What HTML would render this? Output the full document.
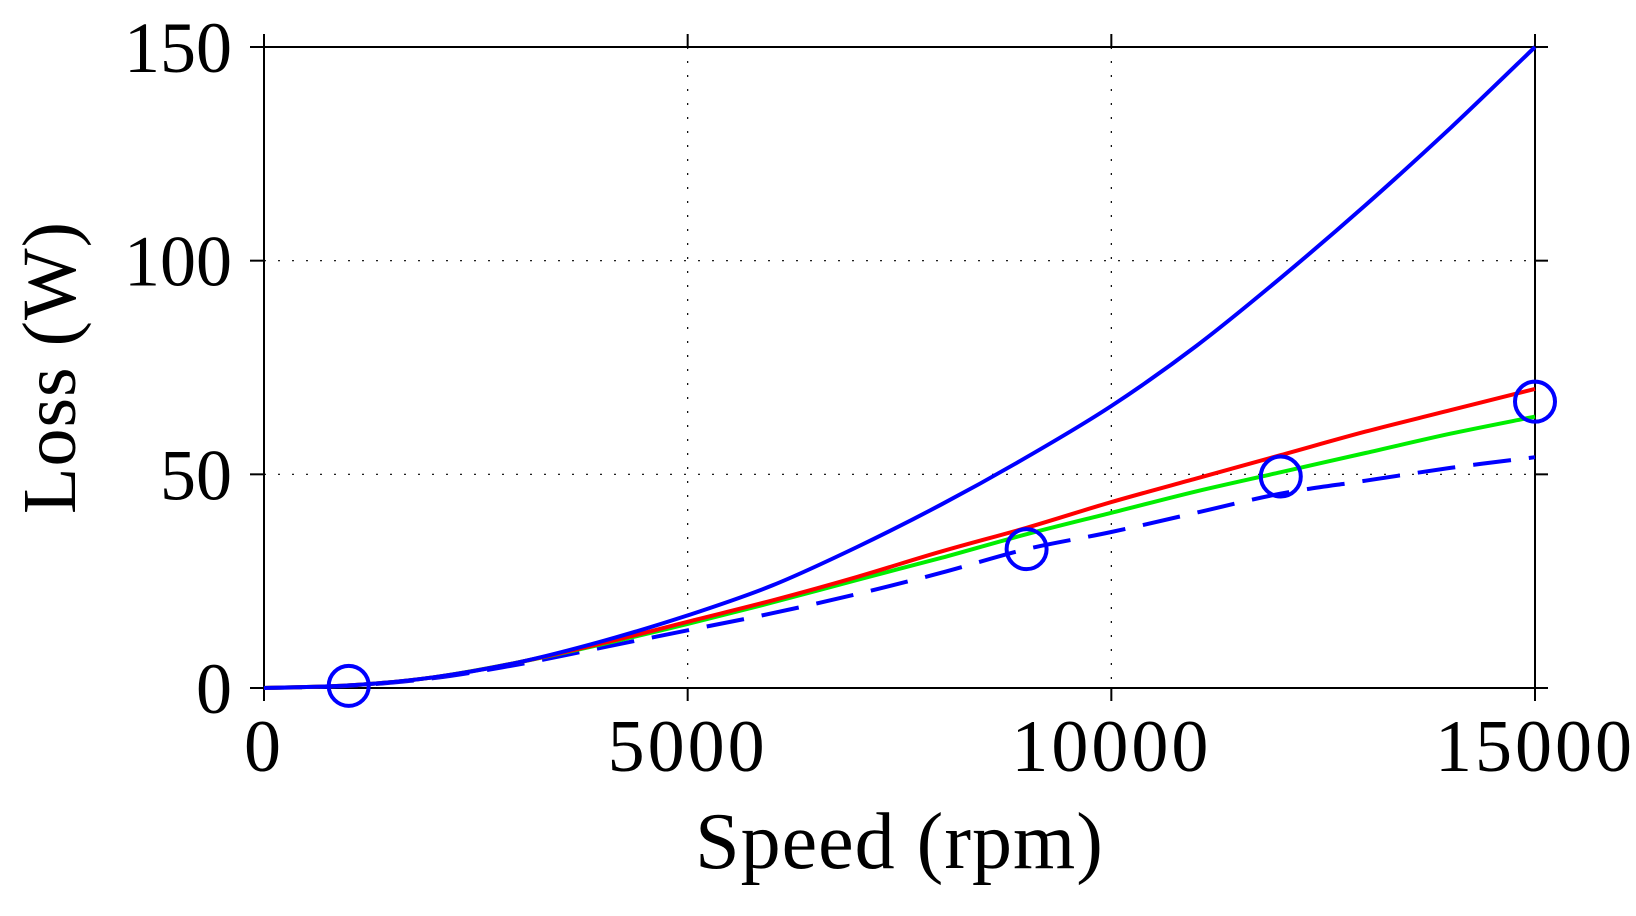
<!DOCTYPE html>
<html><head><meta charset="utf-8"><style>
body{margin:0;background:#fff}
svg text{font-family:"Liberation Serif",serif;fill:#000}
</style></head><body>
<svg id="c" width="1636" height="911"></svg>
<script>
const speeds=[0,1000,2000,3000,4000,5000,6000,7000,8000,9000,10000,11000,12000,13000,14000,15000];
const blueSolid=[0,0.6,2.5,6,11,17,24,33,43,54,66,80,96,113,131,150];
const redLoss=[0,0.6,2.5,6,10.5,15.5,20.5,26,32,37.5,43.5,49,54.5,60,65,70];
const greenLoss=[0,0.6,2.5,6,10.3,15,20,25.3,30.5,36,41,46,50.5,55,59.5,63.5];
const blueDashed=[0,0.5,2.3,5.5,9.5,13.5,17.5,22,27,32.5,36.5,41,45.5,48.5,51.5,54];
const markerX=[1000,9000,12000,15000];
const markerY=[0.5,32.5,49.5,67];
const xTicks=[0,5000,10000,15000];
const yTicks=[0,50,100,150];
const NS="http://www.w3.org/2000/svg";
const svg=document.getElementById('c');
const L=264,R=1535,T=47,B=688;
const sx=v=>L+(v-0)/15000*(R-L);
const sy=v=>B-(v-0)/150*(B-T);
function mk(tag,attrs,parent){const e=document.createElementNS(NS,tag);for(const k in attrs)e.setAttribute(k,attrs[k]);(parent||svg).appendChild(e);return e;}
xTicks.forEach(t=>{if(t>0&&t<15000){const g=mk('line',{x1:sx(t),x2:sx(t),y1:T,y2:B,stroke:'#000','stroke-width':1.2,'stroke-dasharray':'2 12'});

}});
yTicks.forEach(t=>{if(t>0&&t<150){const g=mk('line',{x1:L,x2:R,y1:sy(t),y2:sy(t),stroke:'#000','stroke-width':1.2,'stroke-dasharray':'2 12'});

}});
const fr=mk('rect',{x:L,y:T,width:R-L,height:B-T,fill:'none',stroke:'#000','stroke-width':2});


xTicks.forEach(t=>{mk('line',{x1:sx(t),x2:sx(t),y1:B,y2:B+13,stroke:'#000','stroke-width':2});mk('line',{x1:sx(t),x2:sx(t),y1:T-13,y2:T,stroke:'#000','stroke-width':2});
const tx=mk('text',{x:sx(t),y:B+83,'font-size':74,'text-anchor':'middle','letter-spacing':3});tx.textContent=t;

});
yTicks.forEach(t=>{mk('line',{x1:L-14,x2:L,y1:sy(t),y2:sy(t),stroke:'#000','stroke-width':2});mk('line',{x1:R,x2:R+13,y1:sy(t),y2:sy(t),stroke:'#000','stroke-width':2});
const tx=mk('text',{x:L-32,y:sy(t)+25,'font-size':72,'text-anchor':'end','letter-spacing':0});tx.textContent=t;

});
function line(vals,color,name,dash){
const P=speeds.map((s,i)=>[sx(s),sy(vals[i])]);
let d='M'+P[0][0].toFixed(1)+','+P[0][1].toFixed(1);
for(let i=0;i<P.length-1;i++){const p0=P[Math.max(0,i-1)],p1=P[i],p2=P[i+1],p3=P[Math.min(P.length-1,i+2)];
const c1=[p1[0]+(p2[0]-p0[0])/6,p1[1]+(p2[1]-p0[1])/6],c2=[p2[0]-(p3[0]-p1[0])/6,p2[1]-(p3[1]-p1[1])/6];
d+=' C'+c1.map(v=>v.toFixed(1))+' '+c2.map(v=>v.toFixed(1))+' '+p2.map(v=>v.toFixed(1));}
const p=mk('path',{d:d,fill:'none',stroke:color,'stroke-width':4});if(dash)p.setAttribute('stroke-dasharray',dash);

}
line(blueDashed,'#0000ff','blue-dashed-series','38 18');
line(greenLoss,'#00ee00','green-series');
line(redLoss,'#ff0000','red-series');
line(blueSolid,'#0000ff','blue-solid-series');
markerX.forEach((x,i)=>{const c=mk('circle',{cx:sx(x),cy:sy(markerY[i]),r:20,fill:'none',stroke:'#0000ff','stroke-width':4});

});
const xt=mk('text',{x:(L+R)/2,y:868,'font-size':80,'text-anchor':'middle','letter-spacing':1});xt.textContent='Speed (rpm)';


const yt=mk('text',{x:0,y:0,'font-size':76,'text-anchor':'middle','letter-spacing':1,transform:'translate(75,'+((T+B)/2)+') rotate(-90)'});yt.textContent='Loss (W)';


</script>
</body></html>
